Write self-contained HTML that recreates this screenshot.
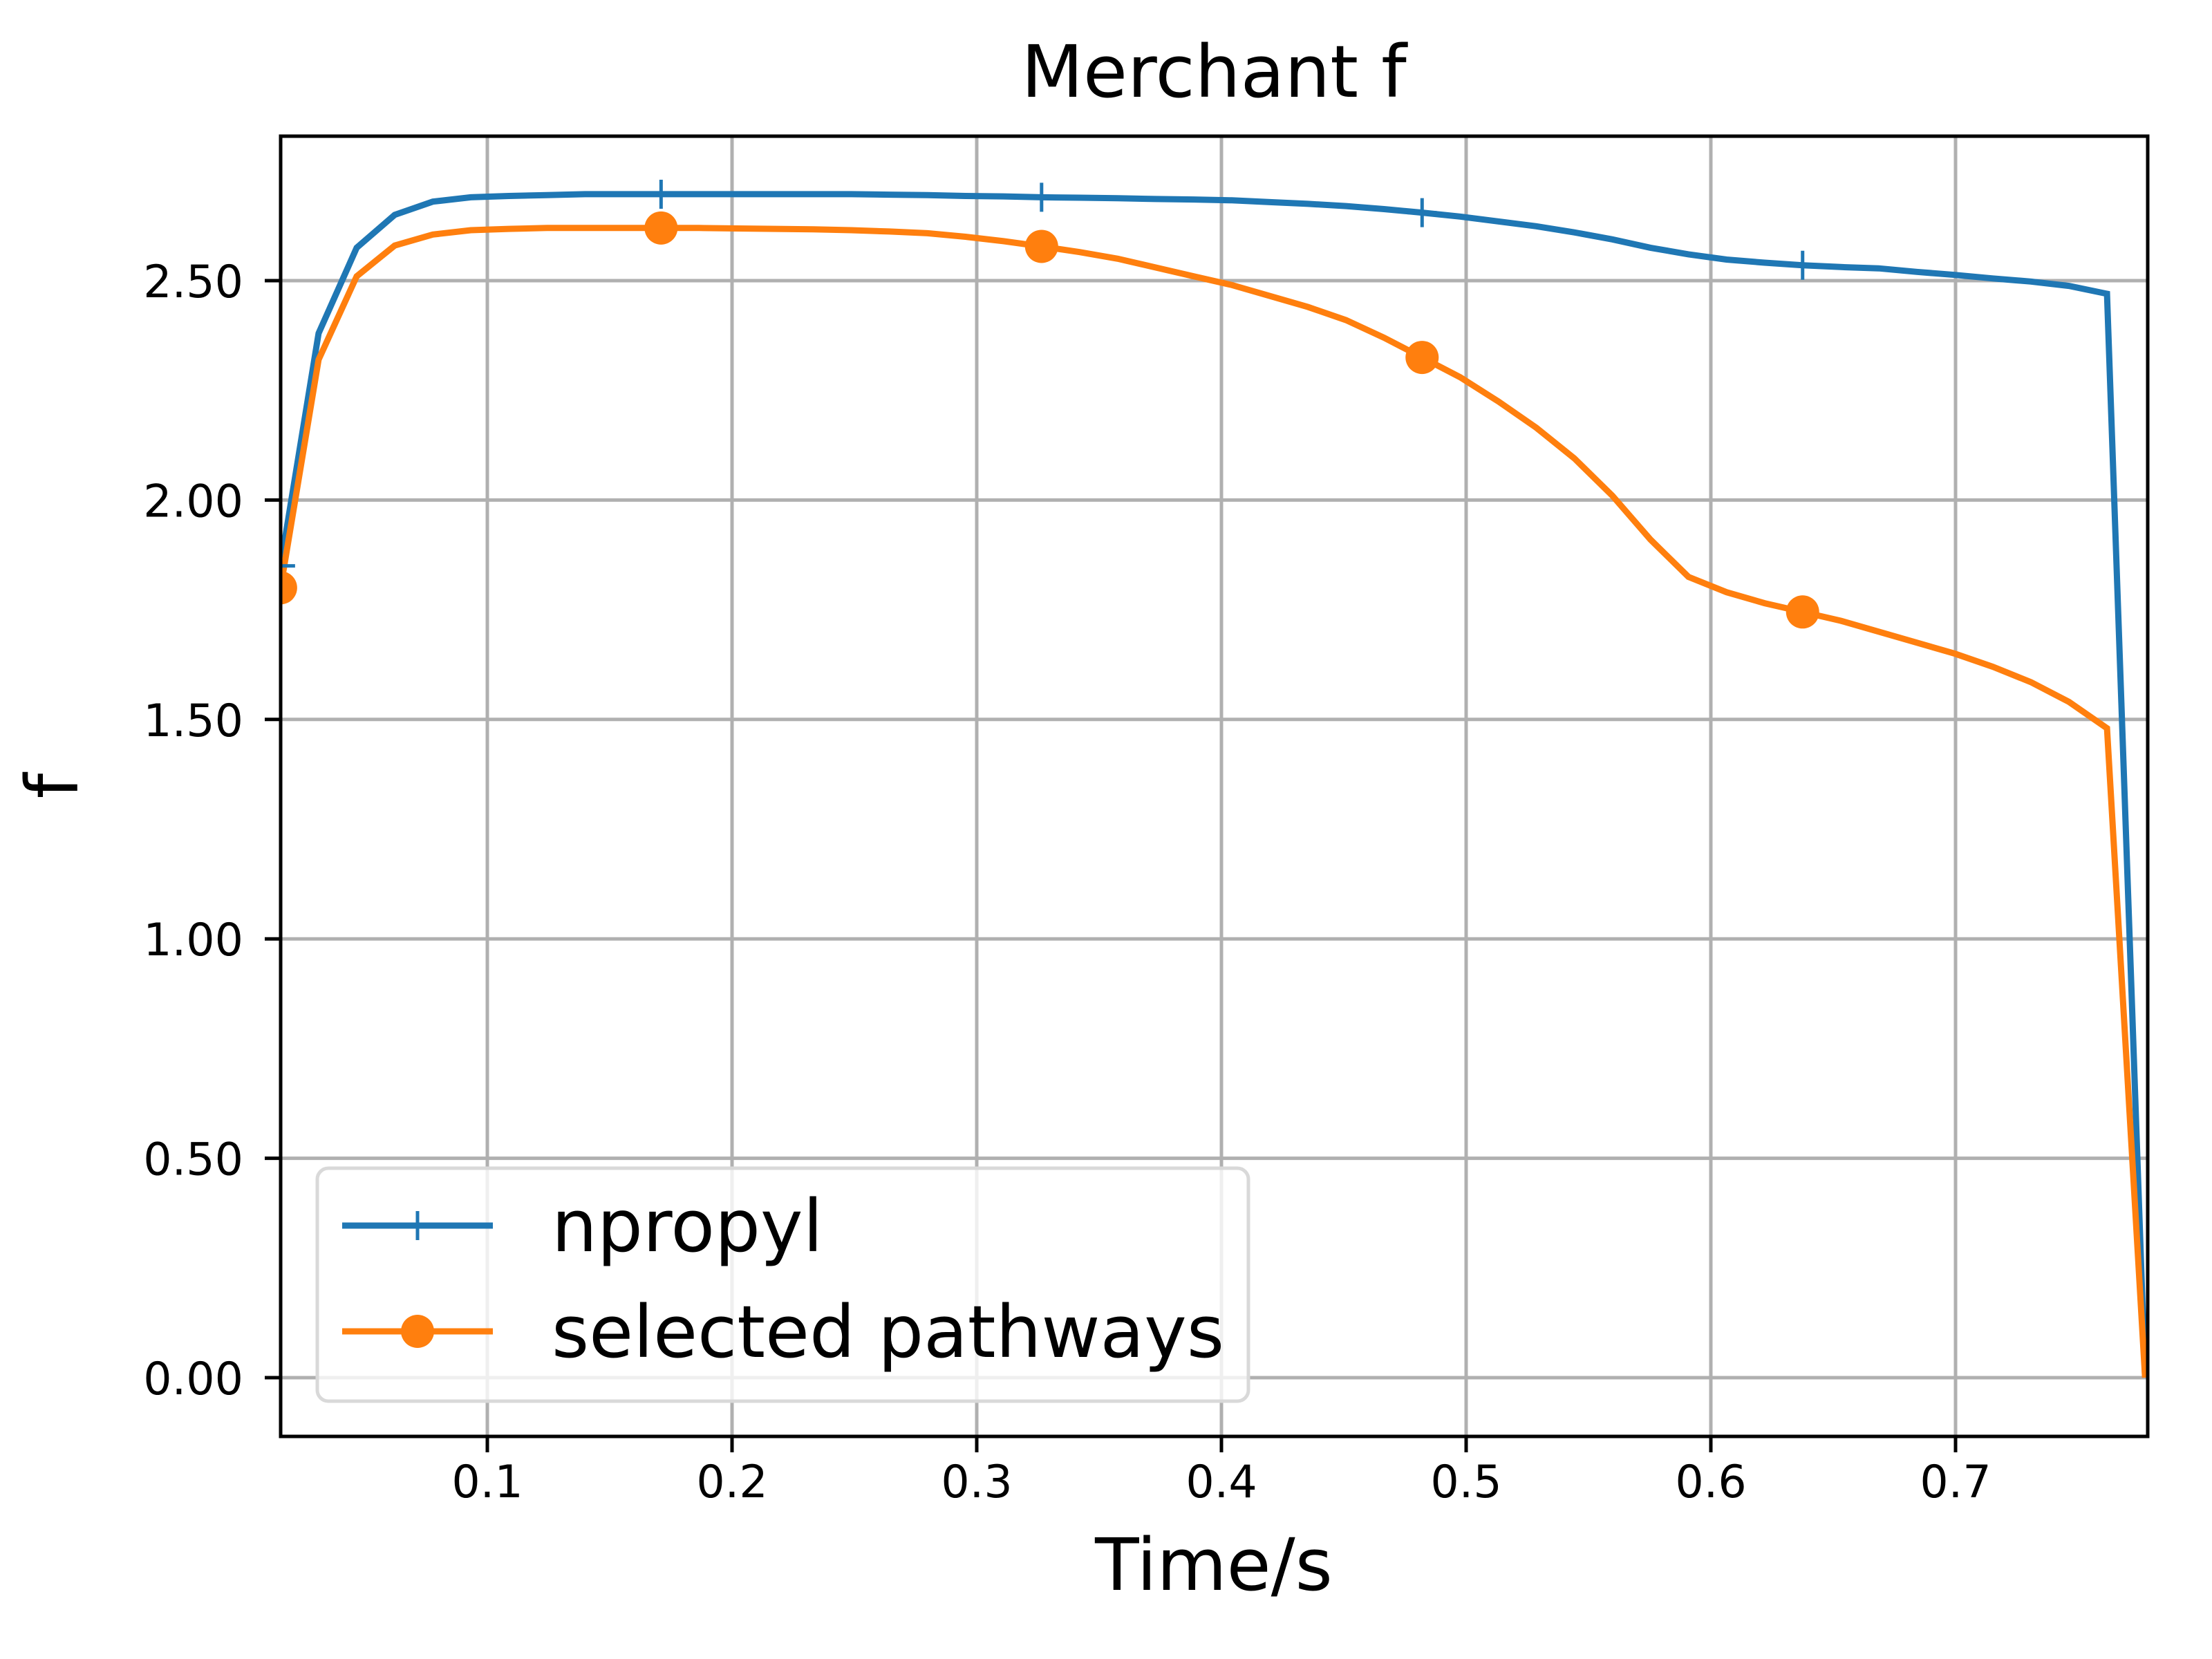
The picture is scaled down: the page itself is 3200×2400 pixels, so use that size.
<!DOCTYPE html>
<html><head><meta charset="utf-8"><style>
html,body{margin:0;padding:0;background:#fff;}
svg{display:block;font-family:"DejaVu Sans","Liberation Sans",sans-serif;}
</style></head><body>
<svg id="chart" width="3200" height="2400" viewBox="0 0 3200 2400" xmlns="http://www.w3.org/2000/svg">
<rect width="3200" height="2400" fill="#fff"/>
<g id="grid"></g>
<g id="series"></g>
<rect x="406" y="197" width="2701" height="1881" fill="none" stroke="#000" stroke-width="5"/>
<g id="ticks"></g>
<text x="1756" y="140" font-size="104" text-anchor="middle">Merchant f</text>
<text x="1756" y="2300" font-size="104" text-anchor="middle">Time/s</text>
<text x="0" y="0" font-size="104" text-anchor="middle" transform="translate(112,1137) rotate(-90)">f</text>
<g>
<rect x="459" y="1690" width="1347" height="337" rx="16" fill="#fff" fill-opacity="0.8" stroke="#d9d9d9" stroke-width="5"/>
<g>
<line x1="495" y1="1773" x2="713" y2="1773" stroke="#1f77b4" stroke-width="9"/>
<line x1="604" y1="1752" x2="604" y2="1794" stroke="#1f77b4" stroke-width="5"/>
<text x="798" y="1810" font-size="104">npropyl</text>
</g>
<g>
<line x1="495" y1="1926" x2="713" y2="1926" stroke="#ff7f0e" stroke-width="9"/>
<circle cx="604" cy="1926" r="24" fill="#ff7f0e"/>
<text x="798" y="1963" font-size="104">selected pathways</text>
</g>
</g>
</svg>
<script>
const timeValues = [];
for (let i = 0; i < 50; i++) timeValues.push(0.0155 + i * 0.01555);
const npropylValues = [1.85,2.38,2.575,2.65,2.68,2.69,2.693,2.695,2.697,2.697,
2.697,2.697,2.697,2.697,2.697,2.697,2.696,2.695,2.693,2.692,
2.69,2.689,2.688,2.686,2.685,2.683,2.679,2.675,2.67,2.663,
2.655,2.646,2.635,2.624,2.61,2.594,2.575,2.56,2.548,2.541,
2.535,2.531,2.528,2.52,2.513,2.505,2.498,2.488,2.47,0];
const pathwayValues = [1.80,2.32,2.51,2.58,2.605,2.615,2.618,2.62,2.62,2.62,
2.62,2.62,2.619,2.618,2.617,2.615,2.612,2.608,2.6,2.59,
2.578,2.565,2.55,2.53,2.51,2.49,2.465,2.44,2.41,2.37,
2.325,2.28,2.225,2.165,2.095,2.01,1.91,1.825,1.79,1.765,
1.745,1.725,1.70,1.675,1.65,1.62,1.585,1.54,1.48,0];
const xTicks = [0.1,0.2,0.3,0.4,0.5,0.6,0.7];
const xTickLabels = ["0.1","0.2","0.3","0.4","0.5","0.6","0.7"];
const yTicks = [0,0.5,1,1.5,2,2.5];
const yTickLabels = ["0.00","0.50","1.00","1.50","2.00","2.50"];

const NS = "http://www.w3.org/2000/svg";
function xs(v){ return 705 + (v - 0.1) * 3540; }
function ys(v){ return 1993 - v * 634.8; }
function mk(tag, attrs, parent){ const e = document.createElementNS(NS, tag); for (const k in attrs) e.setAttribute(k, attrs[k]); parent.appendChild(e); return e; }
const grid = document.getElementById('grid'), ticks = document.getElementById('ticks'), series = document.getElementById('series');
xTicks.forEach((t, i) => {
  const g = mk('line', {x1:xs(t), x2:xs(t), y1:197, y2:2078, stroke:'#b0b0b0', 'stroke-width':5}, grid);
  
  
  const tk = mk('line', {x1:xs(t), x2:xs(t), y1:2078, y2:2101, stroke:'#000', 'stroke-width':5}, ticks);
  
  
  const tx = mk('text', {x:xs(t), y:2166, 'font-size':65, 'text-anchor':'middle'}, ticks);
  tx.textContent = xTickLabels[i];
  
  
});
yTicks.forEach((t, i) => {
  const g = mk('line', {x1:406, x2:3107, y1:ys(t), y2:ys(t), stroke:'#b0b0b0', 'stroke-width':5}, grid);
  
  
  const tk = mk('line', {x1:383, x2:406, y1:ys(t), y2:ys(t), stroke:'#000', 'stroke-width':5}, ticks);
  
  
  const tx = mk('text', {x:352, y:ys(t) + 24, 'font-size':65, 'text-anchor':'end'}, ticks);
  tx.textContent = yTickLabels[i];
  
  
});
const clip = mk('clipPath', {id:'pc'}, mk('defs', {}, document.getElementById('chart')));
mk('rect', {x:406, y:197, width:2701, height:1881}, clip);
series.setAttribute('clip-path', 'url(#pc)');
function drawLine(vals, color, name){
  const pts = vals.map((v, i) => xs(timeValues[i]).toFixed(1) + ',' + ys(v).toFixed(1)).join(' ');
  const pl = mk('polyline', {points:pts, fill:'none', stroke:color, 'stroke-width':9, 'stroke-linejoin':'miter'}, series);
  
  
}
drawLine(npropylValues, '#1f77b4', 'npropyl-line');
drawLine(pathwayValues, '#ff7f0e', 'selected-pathways-line');
for (let i = 0; i < timeValues.length; i += 10) {
  const x = xs(timeValues[i]), yb = ys(npropylValues[i]), yo = ys(pathwayValues[i]);
  const p = mk('path', {d:`M${x-21},${yb}H${x+21}M${x},${yb-21}V${yb+21}`, stroke:'#1f77b4', 'stroke-width':5, fill:'none'}, series);
  
  
  const c = mk('circle', {cx:x, cy:yo, r:24, fill:'#ff7f0e'}, series);
  
  
}
</script>
</body></html>
